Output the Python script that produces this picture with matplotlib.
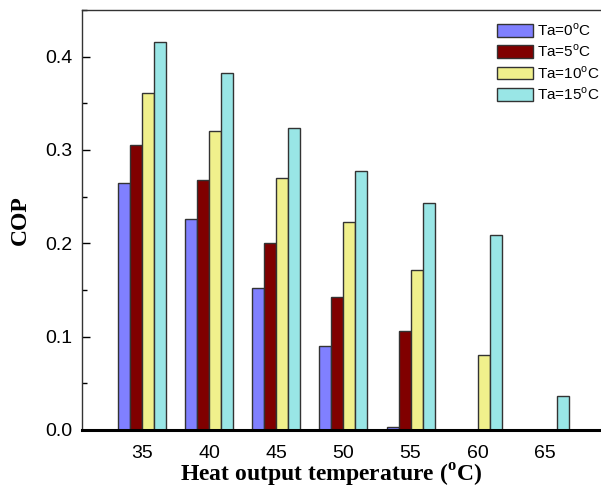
import matplotlib
matplotlib.use('Agg')
import matplotlib.pyplot as plt
import numpy as np
from matplotlib.ticker import MultipleLocator

# data
temps = [35, 40, 45, 50, 55, 60, 65]
cop_ta0 = [0.265, 0.226, 0.152, 0.090, 0.003, 0.0, 0.0]
cop_ta5 = [0.305, 0.268, 0.200, 0.142, 0.106, 0.0, 0.0]
cop_ta10 = [0.361, 0.320, 0.270, 0.223, 0.171, 0.080, 0.0]
cop_ta15 = [0.416, 0.382, 0.324, 0.278, 0.243, 0.209, 0.036]
series_labels = ['Ta=0$^\\mathregular{o}$C', 'Ta=5$^\\mathregular{o}$C',
                 'Ta=10$^\\mathregular{o}$C', 'Ta=15$^\\mathregular{o}$C']

colors = ['#8080ff', '#800000', '#f0f08c', '#99e6e6']

plt.rcParams['font.family'] = ['Liberation Sans', 'DejaVu Sans']
plt.rcParams['mathtext.fontset'] = 'custom'
plt.rcParams['mathtext.rm'] = 'Liberation Sans'

fig = plt.figure(figsize=(6.01, 4.88), dpi=100)
ax = fig.add_axes([82 / 601, 58 / 488, 530 / 601, 420 / 488])

x = np.array(temps, dtype=float)
w = 0.893
all_series = [cop_ta0, cop_ta5, cop_ta10, cop_ta15]
for i, (vals, col, lab) in enumerate(zip(all_series, colors, series_labels)):
    offset = (i - 1.5) * w
    ax.bar(x + offset, vals, width=w, color=col, edgecolor='#333333',
           linewidth=1.0, label=lab, zorder=2)

ax.set_xlim(30.53, 70.0)
ax.set_ylim(0, 0.45)
ax.yaxis.set_major_locator(MultipleLocator(0.1))
ax.yaxis.set_minor_locator(MultipleLocator(0.05))
ax.set_xticks(temps)
ax.set_xticklabels([str(t) for t in temps])

ax.tick_params(axis='y', which='major', direction='in', length=6, width=1,
               labelsize=14, pad=7)
ax.tick_params(axis='y', which='minor', direction='in', length=3.5, width=1)
ax.tick_params(axis='x', length=0, labelsize=14, pad=11)

ax.spines['right'].set_visible(False)
ax.spines['top'].set_linewidth(1.0)
ax.spines['top'].set_color('#333333')
ax.spines['left'].set_linewidth(1.0)
ax.spines['left'].set_color('#333333')
ax.spines['bottom'].set_linewidth(2.2)

serif_bold = dict(family=['Liberation Serif', 'DejaVu Serif'], weight='bold', size=17)
ax.set_ylabel('COP', labelpad=10, **serif_bold)
ax.set_xlabel('Heat output temperature ($^\\mathregular{o}$C)', labelpad=0, **serif_bold)
ax.xaxis.set_label_coords((331 - 82) / 530, -0.077)

ax.legend(loc='upper left', bbox_to_anchor=((497 - 82) / 530, 1 - 12 / 420),
          frameon=False, fontsize=11, handlelength=2.35, handleheight=0.9,
          handletextpad=0.3, labelspacing=0.3, borderaxespad=0, borderpad=0)

fig.savefig('out.png', dpi=100)
